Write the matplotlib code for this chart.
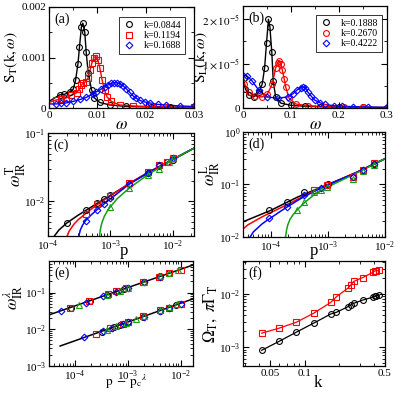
import numpy as np
import matplotlib
matplotlib.use("Agg")
import matplotlib.pyplot as plt
from matplotlib.ticker import FixedLocator, NullFormatter, LogLocator, MultipleLocator

plt.rcParams['font.family'] = ['Liberation Serif', 'DejaVu Serif']
plt.rcParams['mathtext.fontset'] = 'stix'

GREEN = '#11a011'

# ---- (a) transverse S_T(k,w)
wa_1 = [0.0022, 0.0032, 0.0043, 0.005, 0.0055, 0.006, 0.0063, 0.0067, 0.007, 0.0074, 0.0077,
        0.0081, 0.0088, 0.0094, 0.0105, 0.0126, 0.016, 0.021, 0.025, 0.03]
sa_1 = [0.00026, 0.00027, 0.00032, 0.00037, 0.00055, 0.00088, 0.0012, 0.0016, 0.00168, 0.0015, 0.0011,
        0.0007, 0.00036, 0.0002, 0.00011, 0.00006, 0.00003, 0.00002, 0.000015, 0.00001]
wa_2 = [0.0015, 0.0025, 0.0036, 0.0046, 0.0057, 0.0063, 0.0067, 0.0071, 0.0076, 0.0081, 0.0085,
        0.0089, 0.0093, 0.0097, 0.0101, 0.0105, 0.011, 0.0115, 0.012, 0.0129, 0.0146, 0.0174, 0.021, 0.0243, 0.03]
sa_2 = [0.00016, 0.00017, 0.0002, 0.00025, 0.0003, 0.00038, 0.00045, 0.0005, 0.00052, 0.0006, 0.00075,
        0.0009, 0.001, 0.00102, 0.00095, 0.0008, 0.00055, 0.00035, 0.00022, 0.00013, 0.00006, 0.00004, 0.00003, 0.00002, 0.000015]
wa_3 = [0.0015, 0.0025, 0.0035, 0.005, 0.0065, 0.0077, 0.009, 0.0098, 0.0107, 0.0115, 0.0122, 0.0129,
        0.0135, 0.0141, 0.0147, 0.0153, 0.016, 0.0167, 0.0174, 0.0181, 0.0188, 0.0198, 0.0208, 0.0225,
        0.0243, 0.027, 0.03]
sa_3 = [0.00008, 0.00009, 0.0001, 0.00013, 0.00017, 0.00021, 0.00027, 0.00032, 0.00037, 0.00042, 0.00046,
        0.00049, 0.0005, 0.0005, 0.00048, 0.00044, 0.00038, 0.00031, 0.00024, 0.00019, 0.00015, 0.00012,
        0.0001, 0.00007, 0.00006, 0.00004, 0.00003]
sa_zero = [0.00013, 0.00011, 0.00008]   # fit value at w = 0
ka = ['k=0.0844', 'k=0.1194', 'k=0.1688']

# ---- (b) longitudinal S_L(k,w)
wb_1 = [0.0014, 0.005, 0.012, 0.0225, 0.033, 0.04, 0.045, 0.049, 0.053, 0.056, 0.06, 0.063, 0.068,
        0.079, 0.1, 0.13, 0.16, 0.2, 0.25, 0.3]
sb_1 = [6.7e-6, 4.3e-6, 2.9e-6, 2.5e-6, 3.6e-6, 5.4e-6, 9e-6, 1.47e-5, 2.0e-5, 1.83e-5, 1.26e-5, 6.1e-6,
        2.5e-6, 1.1e-6, 6e-7, 4e-7, 3e-7, 2e-7, 1.5e-7, 1e-7]
wb_2 = [0.003, 0.012, 0.026, 0.04, 0.051, 0.061, 0.068, 0.072, 0.075, 0.079, 0.082, 0.086, 0.089, 0.096,
        0.11, 0.135, 0.17, 0.21, 0.25, 0.3]
sb_2 = [5.4e-6, 3.6e-6, 2.7e-6, 2.5e-6, 3.2e-6, 5.4e-6, 9e-6, 1.02e-5, 1.06e-5, 1.0e-5, 8.5e-6, 6.5e-6,
        4.7e-6, 2.2e-6, 9e-7, 5e-7, 3e-7, 2e-7, 1.5e-7, 1e-7]
wb_3 = [0.0085, 0.019, 0.033, 0.051, 0.072, 0.093, 0.104, 0.112, 0.12, 0.125, 0.13, 0.135, 0.142, 0.149,
        0.16, 0.17, 0.19, 0.206, 0.23, 0.26, 0.3]
sb_3 = [7.2e-6, 6.1e-6, 4e-6, 2.5e-6, 2.2e-6, 2.5e-6, 3.2e-6, 4.0e-6, 4.6e-6, 4.8e-6, 4.6e-6, 3.6e-6,
        2.7e-6, 1.8e-6, 1.2e-6, 8e-7, 5e-7, 4e-7, 3e-7, 2e-7, 1.5e-7]
sb_zero = [7.5e-6, 6.5e-6, 8e-6]
kb = ['k=0.1888', 'k=0.2670', 'k=0.4222']

# ---- (c) w_IR^T vs p
pc_pts = [[2e-4, 4e-4, 6e-4, 8e-4, 1e-3, 2e-3, 4e-3, 6e-3, 8e-3, 1e-2],
          [4e-4, 6e-4, 1e-3, 2e-3, 4e-3, 6e-3, 8e-3, 1e-2],
          [4e-4, 6e-4, 8e-4, 1e-3, 2e-3, 4e-3, 6e-3, 1e-2],
          [1e-3, 2e-3, 4e-3, 6e-3, 8.6e-3, 1e-2]]
wc_pts = [[0.0048, 0.0074, 0.0094, 0.0109, 0.0125, 0.0182, 0.026, 0.033, 0.037, 0.040],
          [0.0066, 0.009, 0.012, 0.0185, 0.027, 0.034, 0.038, 0.043],
          [0.0051, 0.0074, 0.0092, 0.011, 0.018, 0.026, 0.034, 0.043],
          [0.0082, 0.0154, 0.024, 0.030, 0.037, 0.043]]
pc_fit = [[1.23e-4, 1.5e-4, 2e-4, 3e-4, 4e-4, 6e-4, 1e-3, 2e-3, 4e-3, 1e-2, 2.2e-2],
          [2e-4, 2.2e-4, 2.6e-4, 3e-4, 4e-4, 6e-4, 1e-3, 2e-3, 4e-3, 1e-2, 2.2e-2],
          [3.1e-4, 3.3e-4, 3.6e-4, 4e-4, 5e-4, 6e-4, 8e-4, 1e-3, 2e-3, 4e-3, 1e-2, 2.2e-2],
          [6.7e-4, 6.9e-4, 7.3e-4, 8e-4, 9e-4, 1e-3, 1.3e-3, 2e-3, 4e-3, 1e-2, 2.2e-2]]
wc_fit = [[3.0e-3, 3.8e-3, 4.8e-3, 6.2e-3, 7.3e-3, 9.2e-3, 1.22e-2, 1.8e-2, 2.6e-2, 4.05e-2, 6.0e-2],
          [3.0e-3, 3.7e-3, 4.6e-3, 5.3e-3, 6.6e-3, 8.8e-3, 1.2e-2, 1.82e-2, 2.65e-2, 4.1e-2, 6.0e-2],
          [3.0e-3, 3.8e-3, 4.5e-3, 5.2e-3, 6.4e-3, 7.4e-3, 9.2e-3, 1.08e-2, 1.78e-2, 2.6e-2, 4.1e-2, 6.0e-2],
          [3.0e-3, 3.8e-3, 4.8e-3, 6.0e-3, 7.3e-3, 8.3e-3, 1.1e-2, 1.55e-2, 2.45e-2, 4.1e-2, 6.0e-2]]

# ---- (d) w_IR^L vs p
pd_pts = [[9.4e-5, 1.95e-4, 3.8e-4, 1e-3, 2.8e-3, 4.2e-3, 6.3e-3],
          [5.7e-4, 9.7e-4, 2.8e-3, 4.2e-3, 6.3e-3],
          [9.4e-5, 1.9e-4, 3.8e-4, 7.5e-4, 2.8e-3, 4.2e-3, 6.3e-3],
          [2.9e-4, 3.8e-4, 5.7e-4, 7.5e-4, 9.7e-4, 2.8e-3, 4.2e-3, 6.3e-3]]
wd_pts = [[0.032, 0.047, 0.071, 0.10, 0.14, 0.19, 0.25],
          [0.079, 0.096, 0.142, 0.19, 0.255],
          [0.023, 0.038, 0.064, 0.086, 0.14, 0.19, 0.25],
          [0.033, 0.046, 0.071, 0.079, 0.089, 0.13, 0.18, 0.24]]
pd_fit = [[3.3e-5, 1e-4, 3e-4, 1e-3, 3e-3, 1e-2],
          [3.3e-5, 4e-5, 5e-5, 7e-5, 1e-4, 1.5e-4, 2e-4, 4e-4, 1e-3, 3e-3, 1e-2],
          [4.4e-5, 5e-5, 6e-5, 7e-5, 8e-5, 1e-4, 1.5e-4, 2e-4, 3e-4, 4e-4, 6e-4, 1e-3, 3e-3, 1e-2],
          [1.83e-4, 1.9e-4, 2e-4, 2.2e-4, 2.5e-4, 3e-4, 4e-4, 6e-4, 1e-3, 3e-3, 1e-2]]
wd_fit = [[0.0195, 0.032, 0.058, 0.10, 0.165, 0.31],
          [0.0142, 0.017, 0.0195, 0.024, 0.029, 0.036, 0.042, 0.062, 0.099, 0.165, 0.31],
          [0.010, 0.0125, 0.015, 0.0175, 0.0195, 0.023, 0.031, 0.038, 0.05, 0.06, 0.075, 0.098, 0.165, 0.31],
          [0.010, 0.0135, 0.017, 0.022, 0.027, 0.034, 0.046, 0.066, 0.09, 0.16, 0.31]]

# ---- (e) scaling collapse w_IR^lambda vs p - pc
pe_top = [[8.5e-5, 1.9e-4, 4e-4, 6.5e-4, 8.5e-4, 2e-3, 4e-3, 6e-3],
          [8e-5, 1.8e-4, 4.2e-4, 6e-4, 9e-4, 1.9e-3, 3.8e-3, 6e-3, 1e-2],
          [5.5e-5, 1.6e-4, 3.4e-4, 6e-4, 1e-3, 2e-3, 4e-3],
          [1.2e-4, 4e-4, 7e-4, 1e-3, 2e-3, 4e-3, 6e-3, 9e-3]]
we_top = [[0.038, 0.058, 0.088, 0.11, 0.125, 0.19, 0.28, 0.33],
          [0.038, 0.06, 0.09, 0.108, 0.13, 0.19, 0.27, 0.34, 0.42],
          [0.031, 0.053, 0.080, 0.105, 0.135, 0.19, 0.27],
          [0.047, 0.085, 0.113, 0.135, 0.195, 0.275, 0.33, 0.41]]
pe_bot = [[3.2e-4, 5.5e-4, 7e-4, 1e-3, 1.9e-3, 4e-3, 6e-3, 8e-3],
          [2.5e-4, 4.6e-4, 8e-4, 1e-3, 1.9e-3, 4e-3, 6e-3, 1e-2],
          [1.5e-4, 3.3e-4, 5e-4, 8e-4, 1e-3, 2e-3, 4e-3, 6e-3, 1e-2],
          [4e-4, 6e-4, 9e-4, 1.4e-3, 2e-3, 4e-3, 6e-3, 8.5e-3]]
we_bot = [[0.0085, 0.0115, 0.0132, 0.0158, 0.022, 0.032, 0.039, 0.045],
          [0.0075, 0.0105, 0.0135, 0.0158, 0.0235, 0.033, 0.039, 0.05],
          [0.006, 0.0088, 0.011, 0.014, 0.016, 0.022, 0.032, 0.038, 0.05],
          [0.0098, 0.012, 0.0148, 0.0185, 0.0225, 0.034, 0.04, 0.048]]
pe_line_top, we_line_top = [3.2e-5, 1.7e-2], [0.0246, 0.56]
pe_line_bot, we_line_bot = [5.2e-5, 1.7e-2], [0.0035, 0.067]

# ---- (f) Omega_T and pi*Gamma_T vs k
kf = [0.0422, 0.0597, 0.0844, 0.1194, 0.1688, 0.1888, 0.2387, 0.2532, 0.2670, 0.32, 0.39, 0.41, 0.42, 0.44]
gam_f = [0.00183, 0.00227, 0.00294, 0.00434, 0.00698, 0.0089, 0.0130, 0.0150, 0.0173, 0.0205, 0.0255,
         0.0274, 0.0274, 0.028]
om_f = [0.00087, 0.00128, 0.00191, 0.00282, 0.00422, 0.00453, 0.00579, 0.0063, 0.0067, 0.0077, 0.0087,
        0.0090, 0.0093, 0.0094]

colors = ['black', 'red', 'blue', GREEN]
marks = ['o', 's', 'D', '^']
ms = [4.2, 4.0, 3.4, 4.2]

W, H = 399, 394
fig = plt.figure(figsize=(W / 100, H / 100), dpi=100)


def box(l, r, t, b):
    return [l / W, 1 - b / H, (r - l) / W, (b - t) / H]


def style(ax):
    ax.tick_params(which='both', direction='in', top=True, right=True, labelsize=8, pad=2)
    ax.tick_params(which='major', length=4, width=0.8)
    ax.tick_params(which='minor', length=2, width=0.6)
    for s in ax.spines.values():
        s.set_linewidth(0.9)


def panel_label(ax, s):
    ax.text(0.04, 0.95, s, transform=ax.transAxes, fontsize=10, va='top', ha='left')


def open_mark(ax, x, y, c, m, size):
    ax.plot(x, y, ls='none', marker=m, ms=size, mfc='none', mec=c, mew=0.8)


def add_legend(ax, x, y):
    leg = ax.legend(loc='upper right', bbox_to_anchor=(x, y), borderaxespad=0, fontsize=7,
                    frameon=True, fancybox=False, edgecolor='black', handletextpad=0.9,
                    borderpad=0.35, labelspacing=0.15, handlelength=1.3)
    leg.get_frame().set_linewidth(0.7)


# (a)
ax = fig.add_axes(box(49, 194, 7, 108))
wa = [wa_1, wa_2, wa_3]
sa = [sa_1, sa_2, sa_3]
for i in range(3):
    ax.plot([0.0] + wa[i], [sa_zero[i]] + sa[i], color=colors[i], lw=1.0)
for i in range(3):
    ax.plot(wa[i], sa[i], ls='none', marker=['o', 's', 'D'][i], ms=[4.2, 4.0, 3.4][i],
            mfc='none', mec=colors[i], mew=0.8, label=ka[i])
ax.set_xlim(0, 0.03)
ax.set_ylim(0, 0.002)
ax.xaxis.set_major_locator(FixedLocator([0, 0.01, 0.02, 0.03]))
ax.set_xticklabels(['0', '0.01', '0.02', '0.03'])
ax.xaxis.set_minor_locator(MultipleLocator(0.005))
ax.yaxis.set_major_locator(FixedLocator([0, 0.001, 0.002]))
ax.set_yticklabels(['0', '0.001', '0.002'])
ax.yaxis.set_minor_locator(MultipleLocator(0.0005))
style(ax)
panel_label(ax, '(a)')
ax.set_xlabel(r'$\omega$', fontsize=12)
ax.set_ylabel(r'$\mathrm{S_T(k,}\omega\mathrm{)}$', fontsize=11)
ax.yaxis.set_label_coords(-0.2, 0.5)
ax.xaxis.set_label_coords(0.5, -0.09)
add_legend(ax, 0.94, 0.9)

# (b)
ax = fig.add_axes(box(243, 387, 6, 108))
wb = [wb_1, wb_2, wb_3]
sb = [sb_1, sb_2, sb_3]
mb = ['o', 'o', 'D']
for i in range(3):
    ax.plot([0.0] + wb[i], [sb_zero[i]] + sb[i], color=colors[i], lw=1.0)
for i in range(3):
    ax.plot(wb[i], sb[i], ls='none', marker=mb[i], ms=[4.2, 4.2, 3.4][i], mfc='none', mec=colors[i],
            mew=0.8, label=kb[i])
ax.set_xlim(0, 0.3)
ax.set_ylim(0, 2.3e-5)
ax.xaxis.set_major_locator(FixedLocator([0, 0.1, 0.2, 0.3]))
ax.set_xticklabels(['0', '0.1', '0.2', '0.3'])
ax.xaxis.set_minor_locator(MultipleLocator(0.05))
ax.yaxis.set_major_locator(FixedLocator([0, 1e-5, 2e-5]))
ax.set_yticklabels(['0', r'$1\times10^{-5}$', r'$2\times10^{-5}$'])
ax.yaxis.set_minor_locator(MultipleLocator(0.5e-5))
style(ax)
panel_label(ax, '(b)')
ax.set_xlabel(r'$\omega$', fontsize=12)
ax.set_ylabel(r'$\mathrm{S_L(k,}\omega\mathrm{)}$', fontsize=11)
ax.yaxis.set_label_coords(-0.23, 0.5)
ax.xaxis.set_label_coords(0.5, -0.09)
add_legend(ax, 0.965, 0.91)


def logaxes(ax):
    ax.set_xscale('log')
    ax.set_yscale('log')
    ax.xaxis.set_minor_locator(LogLocator(base=10, subs=np.arange(2, 10)))
    ax.yaxis.set_minor_locator(LogLocator(base=10, subs=np.arange(2, 10)))
    ax.xaxis.set_minor_formatter(NullFormatter())
    ax.yaxis.set_minor_formatter(NullFormatter())


# (c)
ax = fig.add_axes(box(48, 194, 133, 236))
logaxes(ax)
for i in range(4):
    ax.plot(pc_fit[i], wc_fit[i], color=colors[i], lw=1.1)
for i in range(4):
    open_mark(ax, pc_pts[i], wc_pts[i], colors[i], marks[i], ms[i])
ax.set_xlim(1e-4, 2.2e-2)
ax.set_ylim(3.1e-3, 1e-1)
style(ax)
panel_label(ax, '(c)')
ax.set_xlabel('p', fontsize=12)
ax.xaxis.set_label_coords(0.52, -0.07)
ax.set_ylabel(r'$\omega_{\mathrm{IR}}^{\mathrm{T}}$', fontsize=12)
ax.yaxis.set_label_coords(-0.14, 0.6)

# (d)
ax = fig.add_axes(box(243, 385, 132, 237))
logaxes(ax)
for i in range(4):
    ax.plot(pd_fit[i], wd_fit[i], color=colors[i], lw=1.1)
for i in range(4):
    open_mark(ax, pd_pts[i], wd_pts[i], colors[i], marks[i], ms[i])
ax.set_xlim(3.3e-5, 1e-2)
ax.set_ylim(1e-2, 1)
style(ax)
panel_label(ax, '(d)')
ax.set_xlabel('p', fontsize=12)
ax.xaxis.set_label_coords(0.5, -0.06)
ax.set_ylabel(r'$\omega_{\mathrm{IR}}^{\mathrm{L}}$', fontsize=12)
ax.yaxis.set_label_coords(-0.15, 0.6)

# (e)
ax = fig.add_axes(box(49, 193, 261, 366))
logaxes(ax)
ax.plot(pe_line_top, we_line_top, color='black', lw=1.1)
ax.plot(pe_line_bot, we_line_bot, color='black', lw=1.1)
for i in range(4):
    open_mark(ax, pe_top[i], we_top[i], colors[i], marks[i], ms[i])
    open_mark(ax, pe_bot[i], we_bot[i], colors[i], marks[i], ms[i])
ax.set_xlim(3.2e-5, 1.7e-2)
ax.set_ylim(1e-3, 0.72)
ax.yaxis.set_major_locator(FixedLocator([1e-3, 1e-2, 1e-1]))
style(ax)
panel_label(ax, '(e)')
ax.set_xlabel(r'$\mathrm{p}\;-\;\mathrm{p_c}^{\lambda}$', fontsize=9.5)
ax.xaxis.set_label_coords(0.54, -0.065)
ax.set_ylabel(r'$\omega_{\mathrm{IR}}^{\lambda}$', fontsize=12)
ax.yaxis.set_label_coords(-0.17, 0.65)

# (f)
ax = fig.add_axes(box(243, 385, 261, 366))
logaxes(ax)
ax.plot(kf, gam_f, color='red', lw=0.9, marker='s', ms=4.0, mfc='none', mec='red', mew=0.8)
ax.plot(kf, om_f, color='black', lw=0.9, marker='o', ms=4.2, mfc='none', mec='black', mew=0.8)
ax.set_xlim(0.029, 0.5)
ax.set_ylim(4.4e-4, 0.042)
ax.xaxis.set_major_locator(FixedLocator([0.05, 0.1, 0.5]))
ax.set_xticklabels(['0.05', '0.1', '0.5'])
ax.xaxis.set_minor_locator(FixedLocator([0.03, 0.04, 0.06, 0.07, 0.08, 0.09, 0.2, 0.3, 0.4]))
ax.yaxis.set_major_locator(FixedLocator([1e-3, 1e-2]))
style(ax)
panel_label(ax, '(f)')
ax.set_xlabel('k', fontsize=12)
ax.xaxis.set_label_coords(0.53, -0.085)
ax.set_ylabel(r'$\Omega_{\mathrm{T}},\ \pi\Gamma_{\mathrm{T}}$', fontsize=12)
ax.yaxis.set_label_coords(-0.17, 0.5)

fig.savefig('out.png', dpi=100)
